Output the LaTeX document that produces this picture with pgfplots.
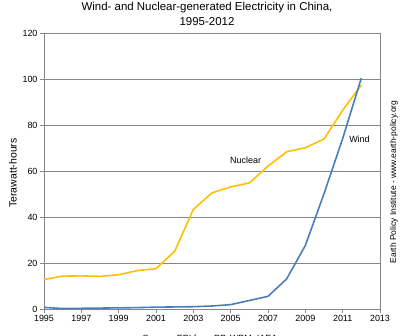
\documentclass[border=0pt]{standalone}
\usepackage{pgfplots}
\pgfplotsset{compat=1.18}
\usepackage{fontspec}
\setmainfont{Liberation Sans}
\definecolor{nuc}{HTML}{FFC000}
\definecolor{wnd}{HTML}{4A7EBB}
\definecolor{gridc}{HTML}{868686}
\begin{document}
\begin{tikzpicture}[x=1bp,y=1bp]
\path[use as bounding box] (-44,-27) rectangle (359,309);
\begin{axis}[
  at={(0,0)}, anchor=south west,
  scale only axis, width=336bp, height=276bp,
  xmin=1995, xmax=2013, ymin=0, ymax=120,
  xtick={1995,1997,...,2013}, ytick={0,20,...,120},
  /pgf/number format/1000 sep={},
  /pgf/number format/assume math mode=true,
  ticklabel style={font=\fontsize{9}{10}\selectfont},
  tick align=outside, major tick length=4bp,
  xtick pos=left, ytick pos=left,
  tick style={gridc, line width=0.8pt},
  axis line style={gridc, line width=0.8pt},
  ymajorgrids, major grid style={gridc, line width=0.8pt},
  xticklabel style={yshift=1bp},
  yticklabel style={xshift=1bp},
]
\addplot[nuc, line width=1.6pt] coordinates {
(1995,12.8) (1996,14.3) (1997,14.4) (1998,14.2) (1999,14.9) (2000,16.7)
(2001,17.5) (2002,25.1) (2003,43.3) (2004,50.5) (2005,53.1) (2006,54.8)
(2007,62.1) (2008,68.4) (2009,70.1) (2010,73.9) (2011,86.4) (2012,97.4)};
\addplot[wnd, line width=1.6pt] coordinates {
(1995,0.7) (1996,0.2) (1997,0.3) (1998,0.4) (1999,0.5) (2000,0.6)
(2001,0.8) (2002,0.9) (2003,1.0) (2004,1.3) (2005,1.9) (2006,3.7)
(2007,5.5) (2008,13.1) (2009,27.6) (2010,50.1) (2011,74.1) (2012,100.4)};
\node[font=\fontsize{9}{10}\selectfont] at (axis cs:2005.8,64.8) {Nuclear};
\node[font=\fontsize{9}{10}\selectfont] at (axis cs:2011.9,73.9) {Wind};
\end{axis}
\node[font=\fontsize{11.5}{13}\selectfont] at (163,301) {Wind- and Nuclear-generated Electricity in China,};
\node[font=\fontsize{11.5}{13}\selectfont] at (163,287) {1995-2012};
\node[rotate=90, font=\fontsize{10.5}{12}\selectfont] at (-31,136) {Terawatt-hours};
\node[rotate=90, font=\fontsize{8.5}{10}\selectfont] at (350,127) {Earth Policy Institute - www.earth-policy.org};
\node[font=\fontsize{9}{10}\selectfont] at (166,-30) {Source: EPI from BP, WPM, IAEA};
\end{tikzpicture}
\end{document}
